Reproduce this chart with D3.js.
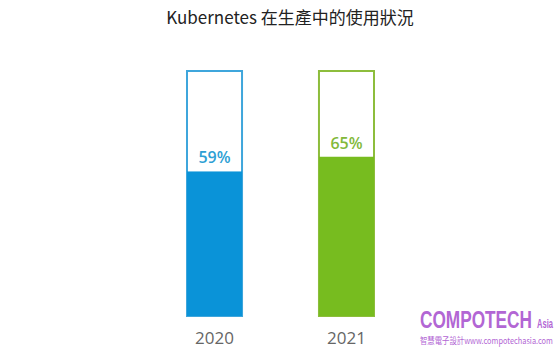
<!DOCTYPE html>
<html><head><meta charset="utf-8">
<script src="https://cdn.jsdelivr.net/npm/d3@7"></script>
<style>body{margin:0;background:#fff}svg{display:block}</style>
</head><body>
<script>
const title = "Kubernetes 在生產中的使用狀況";
const years = ["2020", "2021"];
const values = [59, 65];
const labels = ["59%", "65%"];
const fillColors = ["#0a93d8", "#77bc1f"];
const strokeColors = ["#3fa6dc", "#8dbd3c"];
const textColors = ["#2d9fd4", "#82b93a"];
const brand = "COMPOTECH", brandSuffix = "Asia", brandLine = "智慧電子設計www.compotechasia.com";

const W = 560, H = 350;
const svg = d3.select("body").append("svg").attr("width", W).attr("height", H);

const x = d3.scaleBand().domain(years).range([187, 374]).paddingInner(0.583).paddingOuter(0);
const y = d3.scaleLinear().domain([0, 100]).range([316, 71]);

svg.append("text").attr("x", 290).attr("y", 24).attr("text-anchor", "middle")
  .attr("font-family", "Noto Sans CJK TC, Open Sans, sans-serif").attr("font-size", 17)
  .attr("fill", "#222").text(title);

const g = svg.append("g");
years.forEach((yr, i) => {
  const bx = x(yr), bw = x.bandwidth();
  g.append("rect").attr("x", bx).attr("y", y(100)).attr("width", bw).attr("height", y(0) - y(100))
    .attr("fill", "#fff").attr("stroke", strokeColors[i]).attr("stroke-width", 2);
  g.append("rect").attr("x", bx).attr("y", y(values[i])).attr("width", bw).attr("height", y(0) - y(values[i]))
    .attr("fill", fillColors[i]);
  g.append("text").attr("x", bx + bw / 2).attr("y", y(values[i]) - 8).attr("text-anchor", "middle")
    .attr("font-family", "Open Sans, sans-serif").attr("font-size", 16).attr("font-weight", 600)
    .attr("fill", textColors[i]).text(labels[i]);
});

const xAxis = svg.append("g").attr("transform", "translate(0,326)")
  .call(d3.axisBottom(x).tickSize(0).tickPadding(6));
xAxis.select(".domain").remove();
xAxis.selectAll("text").attr("font-family", "Open Sans, sans-serif").attr("font-size", 17)
  .attr("fill", "#666");

// watermark: natural text, horizontally squeezed to a target width
function squeezed(str, tx, ty, targetW, size, family, weight) {
  const t = svg.append("text").attr("font-family", family).attr("font-size", size)
    .attr("font-weight", weight).attr("fill", "#b266d4").text(str);
  const w = t.node().getComputedTextLength();
  t.attr("transform", `translate(${tx},${ty}) scale(${targetW / w},1)`);
}
squeezed(brand, 420, 328, 112, 24, "Liberation Sans, sans-serif", "bold");
squeezed(brandSuffix, 537, 328, 16, 12, "Liberation Sans, sans-serif", "bold");
squeezed(brandLine, 420, 344, 133, 9, "Noto Sans CJK TC, sans-serif", "normal");
</script>
</body></html>
